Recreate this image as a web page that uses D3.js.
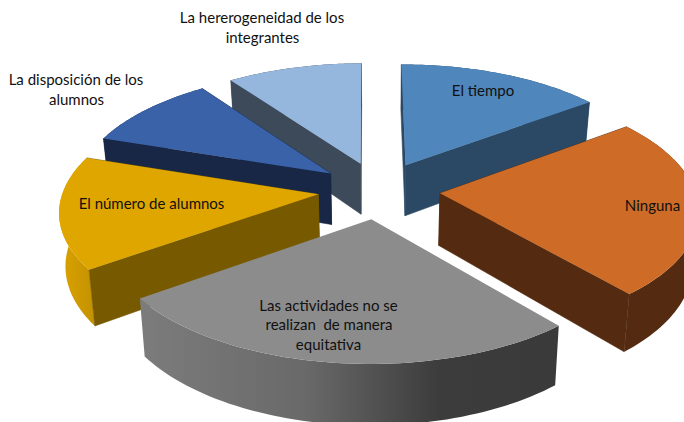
<!DOCTYPE html>
<html>
<head>
<meta charset="utf-8">
<script src="https://cdn.jsdelivr.net/npm/d3@7"></script>
<style>
  html, body { margin: 0; padding: 0; background: #fff; }
  svg { display: block; }
  text { font-family: Lato, "Open Sans", sans-serif; font-size: 15px; fill: #111; white-space: pre; }
</style>
</head>
<body>
<div id="chart"></div>
<script>
const width = 684,
      height = 422;

// data (share of the pie, in percent)
const categories = [
  'El tiempo',
  'Ninguna',
  'Las actividades no se realizan de manera equitativa',
  'El número de alumnos',
  'La disposición de los alumnos',
  'La hererogeneidad de los integrantes'
];
const values = [14.9, 24, 26.3, 15, 10, 9.8];
const labelLines = [
  ['El tiempo'],
  ['Ninguna'],
  ['Las actividades no se', 'realizan  de manera', 'equitativa'],
  ['El número de alumnos'],
  ['La disposición de los', 'alumnos'],
  ['La hererogeneidad de los', 'integrantes']
];

// styling per slice
const topColors = ['#4f86bb', '#cd6b27', '#8c8c8c', '#dfa600', '#3a62a8', '#95b6dd'];
const sideColors = ['#2b4964', '#542b10', '#555', '#775a00', '#172745', '#3d4a5a'];
const labelAnchors = [
  [[483, 96]],
  [[652.5, 211]],
  [[328.5, 311], [329, 330], [328.5, 350]],
  [[151.5, 209]],
  [[76, 85], [76.5, 105]],
  [[262, 23], [262.5, 43]]
];

// fake 3D: pie lies on a tilted plane seen in perspective
const radius = 0.955,
      explode = 0.229,
      perspective = 0.13,
      depth = 52,
      taper = 0.02;

const xScale = d3.scaleLinear().domain([-1, 1]).range([379 - 267, 379 + 267]);
const yScale = d3.scaleLinear().domain([-1, 1]).range([190 - 124.5, 190 + 124.5]);

const svg = d3.select('#chart').append('svg')
  .attr('width', width)
  .attr('height', height);

const defs = svg.append('defs');

function sideGradient(id, x1, x2, stops) {
  const g = defs.append('linearGradient')
    .attr('id', id)
    .attr('gradientUnits', 'userSpaceOnUse')
    .attr('x1', x1).attr('x2', x2).attr('y1', 0).attr('y2', 0);
  stops.forEach(s => g.append('stop').attr('offset', s[0]).attr('stop-color', s[1]));
}
sideGradient('grayWall', 140, 555, [[0, '#7c7c7c'], [0.4, '#696969'], [0.72, '#3c3c3c'], [1, '#3a3a3a']]);
sideGradient('yellowWall', 60, 100, [[0, '#dba300'], [1, '#c08f00']]);

const pie = d3.pie().sort(null).startAngle(-0.006)
  .endAngle(Math.PI * 2 - 0.006);
const slices = pie(values);
const line = d3.line();

// ground point of a slice -> screen; z = 0 top surface, z = 1 bottom
function project(d, angle, r, z) {
  const mid = (d.startAngle + d.endAngle) / 2;
  const X = explode * Math.sin(mid) + r * Math.sin(angle);
  const Y = -explode * Math.cos(mid) - r * Math.cos(angle);
  const s = 1 / (1 - perspective * Y);
  const px = xScale(X * s * (1 - taper * z));
  const py = yScale(Y * s) + depth * s * z;
  return [px, py];
}

function arcPoints(d, a0, a1, z) {
  return d3.range(0, 61).map(i => project(d, a0 + (a1 - a0) * i / 60, radius, z));
}

function wallPath(d, angle) {
  return line([
    project(d, angle, 0, 0),
    project(d, angle, radius, 0),
    project(d, angle, radius, 1),
    project(d, angle, 0, 1)
  ]) + 'Z';
}

function outerWallPath(d) {
  const top = arcPoints(d, d.startAngle, d.endAngle, 0);
  const bottom = arcPoints(d, d.startAngle, d.endAngle, 1).reverse();
  return line(top.concat(bottom)) + 'Z';
}

function topPath(d) {
  return line([project(d, 0, 0, 0)].concat(arcPoints(d, d.startAngle, d.endAngle, 0))) + 'Z';
}

// paint the far slices first
const ordered = slices.slice().sort((a, b) =>
  d3.descending(Math.cos((a.startAngle + a.endAngle) / 2), Math.cos((b.startAngle + b.endAngle) / 2)));

const groups = svg.selectAll('g.slice')
  .data(ordered)
  .enter().append('g')
  .attr('class', 'slice');

groups.append('path')
  .attr('d', outerWallPath)
  .attr('fill', d => d.index === 2 ? 'url(#grayWall)' : d.index === 3 ? 'url(#yellowWall)' : sideColors[d.index]);

// thin stroke hides the seam between radial and outer wall
groups.append('path')
  .attr('d', d => wallPath(d, d.startAngle))
  .attr('fill', d => sideColors[d.index])
  .attr('stroke', d => sideColors[d.index])
  .attr('stroke-width', 0.6)
  .attr('display', d => d.index === 2 ? 'none' : null);

groups.append('path')
  .attr('d', d => wallPath(d, d.endAngle))
  .attr('fill', d => sideColors[d.index])
  .attr('stroke', d => sideColors[d.index])
  .attr('stroke-width', 0.6)
  .attr('display', d => d.index === 2 ? 'none' : null);

groups.append('path')
  .attr('d', topPath)
  .attr('fill', d => topColors[d.index]);

// labels
const labels = svg.selectAll('g.label')
  .data(categories)
  .enter().append('g')
  .attr('class', 'label');

labels.selectAll('text')
  .data((d, i) => labelLines[i].map((t, j) => ({ t, pos: labelAnchors[i][j] })))
  .enter().append('text')
  .attr('x', d => d.pos[0])
  .attr('y', d => d.pos[1])
  .attr('text-anchor', 'middle')
  .text(d => d.t);
</script>
</body>
</html>
